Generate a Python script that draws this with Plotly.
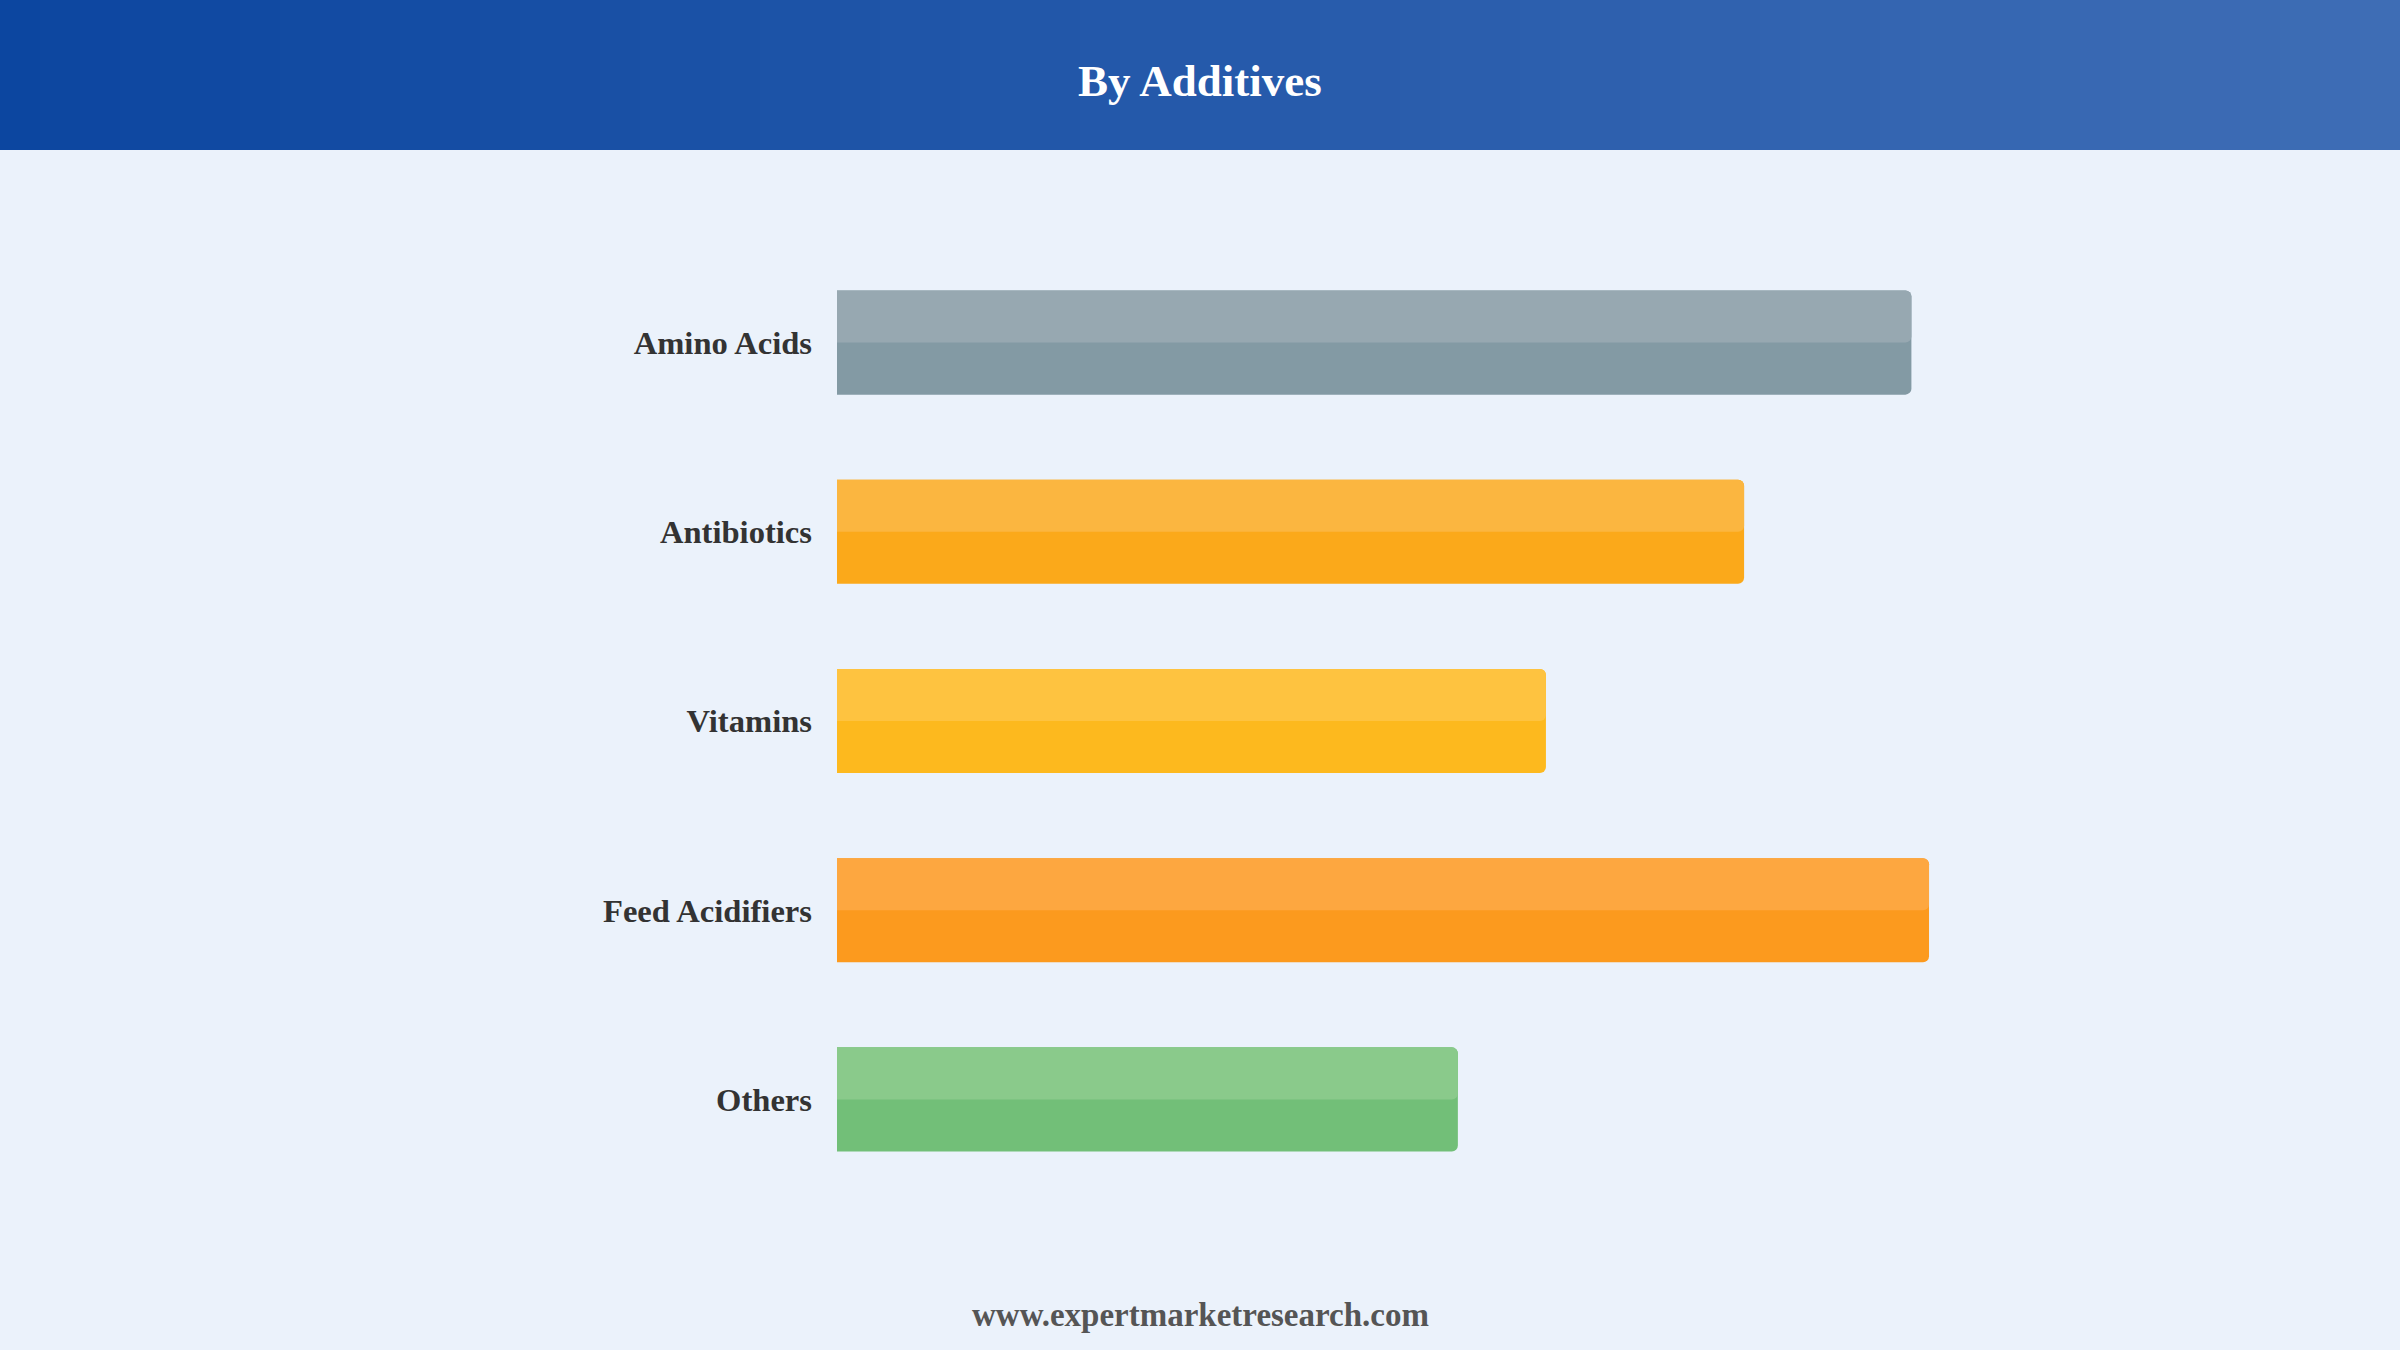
import plotly.graph_objects as go

# ---- data ----
categories = ["Amino Acids", "Antibiotics", "Vitamins", "Feed Acidifiers", "Others"]
values = [24.4, 20.6, 16.1, 24.8, 14.1]
colors_dark = ["#839AA4", "#FBA91A", "#FDB91E", "#FC9A1E", "#72BF78"]
colors_light = ["#97A8B1", "#FBB640", "#FEC340", "#FDA740", "#8ACA8B"]
title_text = "By Additives"
footer_text = "www.expertmarketresearch.com"

W, H = 2400, 1350
ML, MR, MT, MB = 837, 242, 248, 156
pw = W - ML - MR
ph = H - MT - MB

def px_x(p):
    return (p - ML) / pw

def px_y(p):
    return (H - MB - p) / ph

FONT = "Liberation Serif, Times New Roman, serif"
BG = "#EBF2FB"

fig = go.Figure()
fig.add_trace(go.Bar(
    y=categories, x=values, orientation="h", width=0.55,
    marker=dict(color=colors_dark, line=dict(width=0), cornerradius=6),
    hoverinfo="skip", showlegend=False,
))
fig.add_trace(go.Bar(
    y=categories, x=values, orientation="h", width=0.275, offset=-0.275,
    marker=dict(color=colors_light, line=dict(width=0), cornerradius=6),
    hoverinfo="skip", showlegend=False,
))

# header gradient strips
c0 = (12, 70, 160)
c1 = (62, 109, 181)
n = 60
shapes = []
for i in range(n):
    t = i / (n - 1)
    col = tuple(round(c0[k] + (c1[k] - c0[k]) * t) for k in range(3))
    x0 = W * i / n
    x1 = W * (i + 1) / n + 1
    shapes.append(dict(
        type="rect", xref="paper", yref="paper",
        x0=px_x(x0), x1=px_x(x1), y0=px_y(150), y1=px_y(0),
        fillcolor="rgb(%d,%d,%d)" % col, line=dict(width=0), layer="below",
    ))

fig.update_layout(
    width=W, height=H,
    margin=dict(l=ML, r=MR, t=MT, b=MB, pad=0),
    paper_bgcolor=BG, plot_bgcolor=BG,
    barmode="overlay",
    shapes=shapes,
    xaxis=dict(range=[0, 30], visible=False, fixedrange=True),
    yaxis=dict(
        range=[4.5, -0.5], type="category",
        showgrid=False, zeroline=False, showline=False, ticks="",
        ticklabelstandoff=24,
        tickfont=dict(family=FONT, size=32.6, color="#333333", weight="bold"),
        fixedrange=True,
    ),
    annotations=[
        dict(text="<b>%s</b>" % title_text, xref="paper", yref="paper",
             x=px_x(1200), y=px_y(81), xanchor="center", yanchor="middle",
             showarrow=False, font=dict(family=FONT, size=45, color="white")),
        dict(text="<b>%s</b>" % footer_text, xref="paper", yref="paper",
             x=px_x(1200), y=px_y(1315), xanchor="center", yanchor="middle",
             showarrow=False, font=dict(family=FONT, size=33, color="#555555")),
    ],
)

fig.write_html("out.html", config={"displayModeBar": False},
               post_script="document.body.style.margin='0';")
